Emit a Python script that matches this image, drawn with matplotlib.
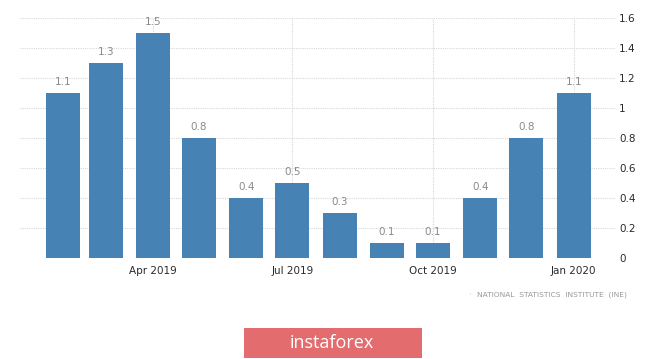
import matplotlib
matplotlib.use('Agg')
import matplotlib.pyplot as plt
import matplotlib.dates as mdates
from matplotlib.patches import Rectangle
import datetime as dt

months = ['2019-02', '2019-03', '2019-04', '2019-05', '2019-06', '2019-07',
          '2019-08', '2019-09', '2019-10', '2019-11', '2019-12', '2020-01']
values = [1.1, 1.3, 1.5, 0.8, 0.4, 0.5, 0.3, 0.1, 0.1, 0.4, 0.8, 1.1]
tick_months = ['2019-04', '2019-07', '2019-10', '2020-01']
tick_labels = ['Apr 2019', 'Jul 2019', 'Oct 2019', 'Jan 2020']
y_ticks = [0, 0.2, 0.4, 0.6, 0.8, 1, 1.2, 1.4, 1.6]
y_tick_labels = ['0', '0.2', '0.4', '0.6', '0.8', '1', '1.2', '1.4', '1.6']
source = 'NATIONAL  STATISTICS  INSTITUTE  (INE)'

def to_date(s):
    return dt.datetime.strptime(s + '-01', '%Y-%m-%d')

x = [to_date(m) for m in months]
xt = [to_date(m) for m in tick_months]

fig = plt.figure(figsize=(6.65, 3.59), dpi=100)
ax = fig.add_axes([20/665, 1 - 258/359, 595/665, 240/359])

ax.bar(x, values, width=22.2, color='#4682b4', zorder=3)
for xi, v in zip(x, values):
    ax.annotate(str(v), (mdates.date2num(xi), v), xytext=(0, 4.5),
                textcoords='offset points', ha='center', va='bottom',
                fontsize=7.5, color='#8a8a8a', zorder=4)

ax.set_xlim(dt.datetime(2019, 1, 4), dt.datetime(2020, 1, 28))
ax.set_ylim(0, 1.6)
ax.set_xticks(xt)
ax.set_xticklabels(tick_labels)
ax.yaxis.tick_right()
ax.set_yticks(y_ticks)
ax.set_yticklabels(y_tick_labels)
ax.tick_params(axis='both', length=0, labelsize=7.5, labelcolor='#2a2a2a')
ax.tick_params(axis='y', pad=3)
ax.tick_params(axis='x', pad=6)
ax.grid(True, color='#d8d8d8', linestyle=(0, (1, 1)), linewidth=0.8, zorder=0)
for s in ax.spines.values():
    s.set_visible(False)

fig.text(470/665, 1 - 295/359, "'", fontsize=4, color='#bbbbbb', va='center')
fig.text(477/665, 1 - 295/359, source, fontsize=5.4, color='#999999', va='center')

# instaforex button
fig.patches.append(Rectangle((244/665, 1 - 358/359), 178/665, 30/359,
                             transform=fig.transFigure, facecolor='#e26c6e',
                             edgecolor='none'))
fig.text(332/665, 1 - 343/359, 'instaforex', fontsize=13, color='white',
         ha='center', va='center', family='Open Sans')

fig.savefig('out.png', dpi=100)
